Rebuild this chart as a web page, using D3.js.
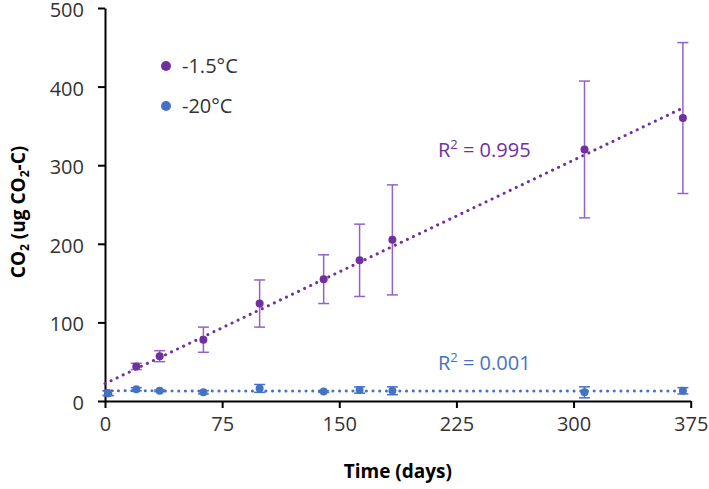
<!DOCTYPE html>
<html>
    <head>
        <meta charset="utf-8">
        <title>CO2 over time</title>
        <style>
            body { margin: 0; background: #fff; }
            text { font-family: "Open Sans", sans-serif; }
        </style>
    </head>
    <body>

        <script type="text/javascript" src="https://d3js.org/d3.v7.min.js"></script>
        <script type="text/javascript">
            var days = [2, 20, 35, 63, 99, 140, 163, 184, 307, 370];
            var warmValues = [10, 44, 57, 78, 124, 155, 179, 205, 320, 360];
            var warmErrors = [3, 4, 7, 16, 30, 31, 46, 70, 87, 96];
            var coldValues = [10, 15, 13, 11, 16, 12, 14, 13, 11, 13];
            var coldErrors = [3, 2, 1, 2, 5, 1, 4, 5, 7, 4];
            var xTicks = [0, 75, 150, 225, 300, 375];
            var yTicks = [0, 100, 200, 300, 400, 500];
            var seriesNames = ['-1.5\u00B0C', '-20\u00B0C'];
            var r2Labels = ['0.995', '0.001'];

            var width = 709, height = 489;
            var plotLeft = 105, plotRight = 690.7, plotTop = 8, plotBottom = 401;

            var purple = '#7030a0', purpleBar = '#9461c7';
            var blue = '#4472c4';

            var svg = d3.select('body')
                .append('svg')
                .attr('width', width)
                .attr('height', height);

            var xScale = d3.scaleLinear()
                .domain([0, 375])
                .range([plotLeft, plotRight]);

            var yScale = d3.scaleLinear()
                .domain([0, 500])
                .range([plotBottom, plotTop]);

            // axes
            var xAxis = d3.axisBottom(xScale)
                .tickValues(xTicks)
                .tickSize(7)
                .tickSizeOuter(0)
                .tickPadding(9);

            var yAxis = d3.axisLeft(yScale)
                .tickValues(yTicks)
                .tickSize(7)
                .tickSizeOuter(0)
                .tickPadding(14);

            var gx = svg.append('g')
                .attr('transform', 'translate(0,' + plotBottom + ')')
                .call(xAxis);
            var gy = svg.append('g')
                .attr('transform', 'translate(' + plotLeft + ',0)')
                .call(yAxis);

            [gx, gy].forEach(function(g){
                g.select('.domain').attr('stroke', '#000').attr('stroke-width', 2);
                g.selectAll('.tick line').attr('stroke', '#000').attr('stroke-width', 2);
                g.selectAll('.tick text')
                    .attr('fill', '#333')
                    .style('font-size', '20px')
                    .style('font-family', '"Open Sans", sans-serif');
            });
            gy.selectAll('.tick text').attr('dy', '0.42em');

            // linear fit for trendlines
            function fit(xs, ys){
                var mx = d3.mean(xs), my = d3.mean(ys);
                var sxy = d3.sum(xs, function(x, i){ return (x - mx) * (ys[i] - my); });
                var sxx = d3.sum(xs, function(x){ return (x - mx) * (x - mx); });
                var slope = sxy / sxx;
                return { slope: slope, intercept: my - slope * mx };
            }

            var series = [
                { values: warmValues, errors: warmErrors, color: purple, barColor: purpleBar },
                { values: coldValues, errors: coldErrors, color: blue, barColor: blue }
            ];

            series.forEach(function(s){
                var f = fit(days, s.values);
                var x0 = 0, x1 = d3.max(days);
                svg.append('line')
                    .attr('x1', xScale(x0))
                    .attr('y1', yScale(f.intercept + f.slope * x0))
                    .attr('x2', xScale(x1))
                    .attr('y2', yScale(f.intercept + f.slope * x1))
                    .attr('stroke', s.color)
                    .attr('stroke-width', 3)
                    .attr('stroke-linecap', 'round')
                    .attr('stroke-dasharray', '0.1 6.6');

                var g = svg.append('g');
                var pts = days.map(function(d, i){ return { x: d, y: s.values[i], e: s.errors[i] }; });

                g.selectAll('line.bar')
                    .data(pts)
                    .enter()
                    .append('line')
                    .attr('x1', function(d){ return xScale(d.x); })
                    .attr('x2', function(d){ return xScale(d.x); })
                    .attr('y1', function(d){ return yScale(d.y - d.e); })
                    .attr('y2', function(d){ return yScale(d.y + d.e); })
                    .attr('stroke', s.barColor)
                    .attr('stroke-width', 1.5);

                [-1, 1].forEach(function(sign){
                    g.selectAll('line.cap' + sign)
                        .data(pts)
                        .enter()
                        .append('line')
                        .attr('x1', function(d){ return xScale(d.x) - 5.5; })
                        .attr('x2', function(d){ return xScale(d.x) + 5.5; })
                        .attr('y1', function(d){ return yScale(d.y + sign * d.e); })
                        .attr('y2', function(d){ return yScale(d.y + sign * d.e); })
                        .attr('stroke', s.barColor)
                        .attr('stroke-width', 1.5);
                });

                g.selectAll('circle')
                    .data(pts)
                    .enter()
                    .append('circle')
                    .attr('cx', function(d){ return xScale(d.x); })
                    .attr('cy', function(d){ return yScale(d.y); })
                    .attr('r', 4)
                    .attr('fill', s.color);
            });

            // R squared labels
            var r2Pos = [[438, 157], [438, 370]];
            r2Labels.forEach(function(v, i){
                var t = svg.append('text')
                    .attr('x', r2Pos[i][0])
                    .attr('y', r2Pos[i][1])
                    .attr('fill', series[i].color)
                    .style('font-size', '20px');
                t.append('tspan').text('R');
                t.append('tspan').attr('dy', -8).style('font-size', '13px').text('2');
                t.append('tspan').attr('dy', 8).text(' = ' + v);
            });

            // legend
            seriesNames.forEach(function(name, i){
                var ly = 66 + i * 40;
                svg.append('circle')
                    .attr('cx', 166)
                    .attr('cy', ly)
                    .attr('r', 5)
                    .attr('fill', series[i].color);
                svg.append('text')
                    .attr('x', 182)
                    .attr('y', ly + 7)
                    .attr('fill', '#333')
                    .style('font-size', '20px')
                    .text(name);
            });

            // axis titles
            svg.append('text')
                .attr('x', (plotLeft + plotRight) / 2)
                .attr('y', 478)
                .attr('text-anchor', 'middle')
                .attr('fill', '#000')
                .style('font-size', '19px')
                .style('font-weight', 'bold')
                .text('Time (days)');

            var yt = svg.append('text')
                .attr('transform', 'translate(25,212) rotate(-90)')
                .attr('text-anchor', 'middle')
                .attr('fill', '#000')
                .style('font-size', '19px')
                .style('font-weight', 'bold');
            yt.append('tspan').text('CO');
            yt.append('tspan').attr('dy', 4).style('font-size', '12px').text('2');
            yt.append('tspan').attr('dy', -4).text(' (ug CO');
            yt.append('tspan').attr('dy', 4).style('font-size', '12px').text('2');
            yt.append('tspan').attr('dy', -4).text('-C)');
        </script>

    </body>
</html>
